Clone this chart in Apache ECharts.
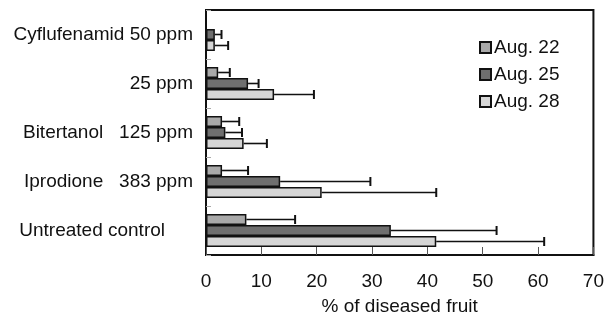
<!DOCTYPE html>
<html>
<head>
<meta charset="utf-8">
<script src="https://cdn.jsdelivr.net/npm/echarts@6/dist/echarts.min.js"></script>
<style>
  html, body { margin: 0; padding: 0; background: #fff; }
  #chart { width: 607px; height: 324px; }
</style>
</head>
<body>
<div id="chart"></div>
<script>
// categories, top to bottom
const categories = ['Cyflufenamid 50 ppm', '25 ppm', 'Bitertanol   125 ppm', 'Iprodione   383 ppm', 'Untreated control'];
const seriesNames = ['Aug. 22', 'Aug. 25', 'Aug. 28'];

// % of diseased fruit (mean) and error (upper bar length)
const aug22 = [0, 2.2, 2.9, 2.9, 7.3];
const aug25 = [1.6, 7.6, 3.5, 13.4, 33.4];
const aug28 = [1.6, 12.3, 6.8, 20.9, 41.6];
const aug22Err = [0, 2.1, 3.1, 4.7, 8.8];
const aug25Err = [1.2, 1.9, 3.0, 16.3, 19.1];
const aug28Err = [2.4, 7.2, 4.2, 20.7, 19.5];

const xTicks = [0, 10, 20, 30, 40, 50, 60, 70];

const means = [aug22, aug25, aug28];
const errs = [aug22Err, aug25Err, aug28Err];
const fills = ['#a9a9a9', '#6f6f6f', '#d6d6d6'];
const BAR_W = 11;
const FONT = 'Liberation Sans, Arial, sans-serif';
const FS = 19;

const chart = echarts.init(document.getElementById('chart'));

const barSeries = seriesNames.map((name, k) => ({
  name: name,
  type: 'bar',
  barWidth: BAR_W,
  barGap: '0%',
  data: means[k],
  itemStyle: { color: fills[k], borderColor: '#111', borderWidth: 1.5 },
  z: 2
}));

const errSeries = seriesNames.map((name, k) => ({
  type: 'custom',
  name: name + ' err',
  z: 3,
  silent: true,
  data: means[k].map((m, i) => [m, i, errs[k][i]]),
  encode: { x: 0, y: 1 },
  renderItem: function (params, api) {
    const m = api.value(0), cat = api.value(1), e = api.value(2);
    if (!e) return null;
    const p0 = api.coord([m, cat]);
    const p1 = api.coord([m + e, cat]);
    const y = p0[1] + (k - 1) * BAR_W;
    const style = { stroke: '#111', lineWidth: 1.6 };
    return {
      type: 'group',
      children: [
        { type: 'line', shape: { x1: p0[0], y1: y, x2: p1[0], y2: y }, style: style },
        { type: 'line', shape: { x1: p1[0], y1: y - 4.5, x2: p1[0], y2: y + 4.5 }, style: { stroke: '#111', lineWidth: 2 } }
      ]
    };
  }
}));

const option = {
  animation: false,
  textStyle: { fontFamily: FONT },
  grid: {
    left: 206, right: 13, top: 10, bottom: 69,
    show: true, borderColor: '#111', borderWidth: 2
  },
  legend: {
    orient: 'vertical',
    left: 474, top: 33,
    itemWidth: 11, itemHeight: 11, itemGap: 8,
    icon: 'rect',
    data: seriesNames,
    textStyle: { fontSize: FS, color: '#111', fontFamily: FONT, padding: [0, 0, 0, -2] }
  },
  xAxis: {
    type: 'value',
    min: xTicks[0], max: xTicks[xTicks.length - 1], interval: 10,
    name: '% of diseased fruit',
    nameLocation: 'middle', nameGap: 42,
    nameTextStyle: { fontSize: FS, color: '#111', fontFamily: FONT },
    axisLine: { show: true, lineStyle: { color: '#111', width: 2 } },
    axisTick: { show: true, inside: true, length: 8, lineStyle: { color: '#555', width: 1 } },
    axisLabel: { fontSize: FS, color: '#111', margin: 17, fontFamily: FONT },
    splitLine: { show: false }
  },
  yAxis: {
    type: 'category',
    inverse: true,
    data: categories,
    axisLine: { show: true, lineStyle: { color: '#111', width: 2 } },
    axisTick: { show: true, inside: true, length: 5, lineStyle: { color: '#aaa' } },
    axisLabel: {
      fontSize: FS, color: '#111', margin: 13, fontFamily: FONT,
      formatter: v => v === 'Untreated control' ? '{u|' + v + '}' : v,
      rich: { u: { fontSize: FS, color: '#111', fontFamily: FONT, padding: [0, 28, 0, 0] } }
    }
  },
  series: barSeries.concat(errSeries)
};

chart.setOption(option);
</script>
</body>
</html>
